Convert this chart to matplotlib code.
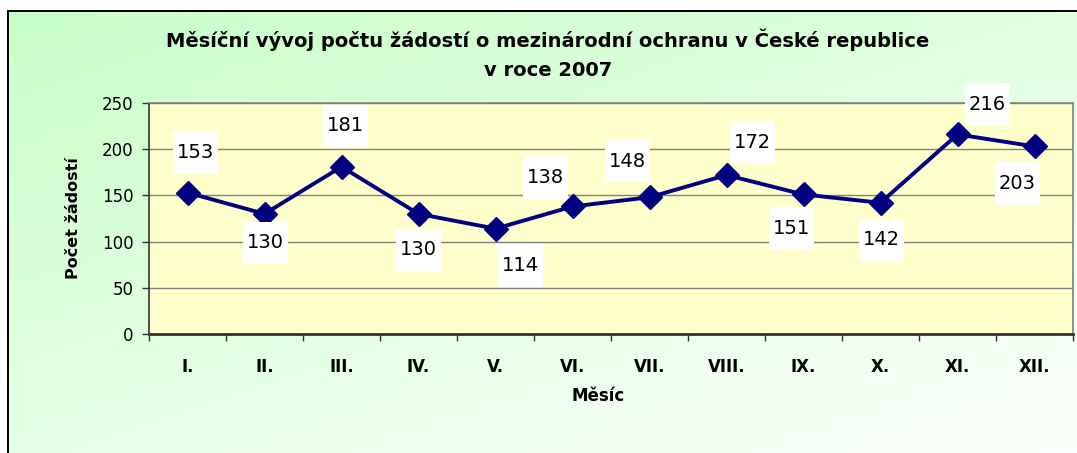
import numpy as np
import matplotlib.pyplot as plt
from matplotlib.path import Path

plt.rcParams['font.family'] = ['DejaVu Sans']

# data
months = ['I.', 'II.', 'III.', 'IV.', 'V.', 'VI.', 'VII.', 'VIII.', 'IX.', 'X.', 'XI.', 'XII.']
zadosti = [153, 130, 181, 130, 114, 138, 148, 172, 151, 142, 216, 203]
# label offsets from the point (pixels), as placed in the original
label_dx = [8, 1, 4, 0, 25, -27, -22, 26, -12, 1, 30, -17]
label_dy = [40, -29, 41, -36, -37, 29, 36, 33, -34, -37, 30, -37]

W, H = 1077, 453
fig = plt.figure(figsize=(W / 100, H / 100), dpi=100, facecolor='white')

# green gradient background with the black frame (top + left) painted in
yy, xx = np.mgrid[0:H, 0:W]
t = np.clip(0.55 * (yy - 10) / (H - 10) + 0.45 * (xx - 7) / (W - 7), 0, 1)
c0 = np.array([200, 255, 200]) / 255
c1 = np.array([252, 255, 252]) / 255
img = c0[None, None, :] * (1 - t[..., None]) + c1[None, None, :] * t[..., None]
img[:10, :, :] = 1.0
img[:, :7, :] = 1.0
img[10:12, 7:, :] = 0.0
img[10:, 7:9, :] = 0.0
fig.figimage(img, xo=0, yo=0, origin='upper', zorder=-10)

ax = fig.add_axes([149 / W, 1 - 334 / H, (1073 - 149) / W, (334 - 103) / H])
ax.set_zorder(5)
ax.set_facecolor('#ffffcc')

x = np.arange(len(months))
ax.plot(x, zadosti, color='#000080', lw=2.8, marker='D', ms=12, zorder=3)

ax.set_xlim(-0.5, len(months) - 0.5)
ax.set_ylim(0, 250)
ax.set_yticks(range(0, 251, 50))
ax.yaxis.grid(True, color='#808080', lw=1)
ax.set_axisbelow(True)

ax.set_xticks(x)
ax.set_xticklabels(months, fontsize=12, fontweight='bold')
ax.set_xticks(np.arange(-0.5, len(months)), minor=True)
ax.tick_params(axis='x', which='major', length=0, pad=17)
ax.tick_params(axis='x', which='minor', length=5, width=1, color='#333333')
ax.tick_params(axis='y', length=5, width=1, color='#333333', labelsize=12, pad=6)

ax.spines['left'].set_color('#333333')
ax.spines['bottom'].set_color('#333333')
ax.spines['bottom'].set_linewidth(2)
ax.spines['left'].set_linewidth(1.2)
ax.spines['top'].set_color('#808080')
ax.spines['right'].set_color('#808080')
ax.spines['top'].set_linewidth(1.2)
ax.spines['right'].set_linewidth(1.2)

ax.set_xlabel('Měsíc', fontsize=12, fontweight='bold')
ax.set_ylabel('Počet žádostí', fontsize=11.5, fontweight='bold')
ax.xaxis.set_label_coords(0.5 - 13 / 924, -62 / 231)
ax.yaxis.set_label_coords(-75 / 924, 0.5)
ax.xaxis.label.set_va('center')
ax.yaxis.label.set_va('center')


def label_box(x0, y0, width, height, mutation_size):
    px = 0.2 * mutation_size
    py = 0.6 * mutation_size
    x0, y0 = x0 - px, y0 - py
    x1, y1 = x0 + width + 2 * px, y0 + height + 2 * py
    return Path([(x0, y0), (x1, y0), (x1, y1), (x0, y1), (x0, y0)], closed=True)


for xi, v, dx, dy in zip(x, zadosti, label_dx, label_dy):
    ax.annotate(str(v), (xi, v), xytext=(dx, dy), textcoords='offset pixels',
                ha='center', va='center', fontsize=14, zorder=4,
                bbox=dict(boxstyle=label_box, fc='white', ec='none'),
                annotation_clip=False)

fig.text(548 / W, 1 - 40 / H, 'Měsíční vývoj počtu žádostí o mezinárodní ochranu v České republice',
         ha='center', va='center', fontsize=14, fontweight='bold', zorder=6)
fig.text(548 / W, 1 - 70 / H, 'v roce 2007', ha='center', va='center', fontsize=14,
         fontweight='bold', zorder=6)

fig.savefig('out.png', dpi=100, facecolor='white')
